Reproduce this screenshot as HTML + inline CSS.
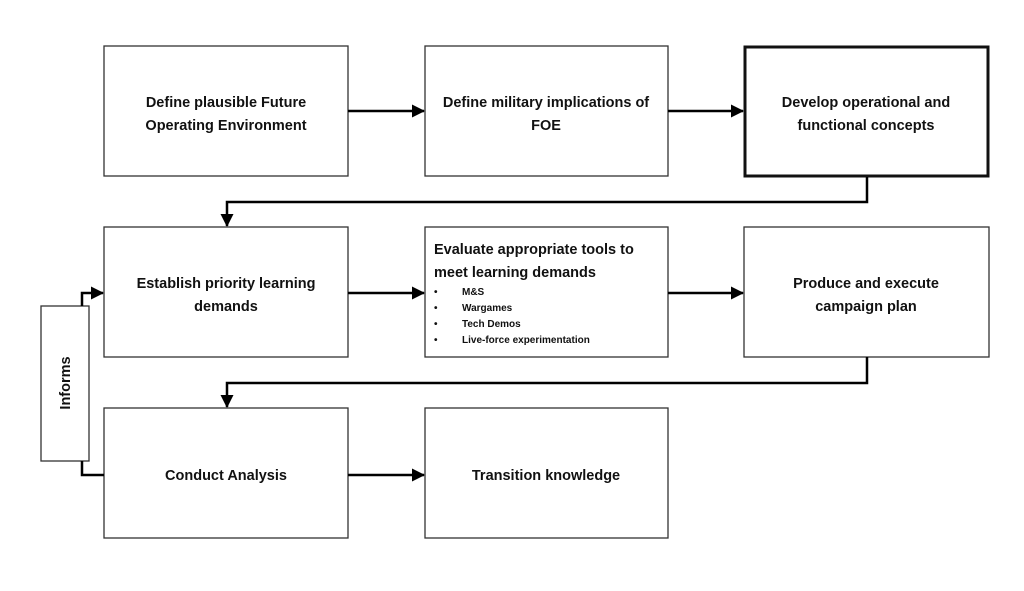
<!DOCTYPE html>
<html><head><meta charset="utf-8"><style>
html,body{margin:0;padding:0;background:#fff;}
svg text{font-family:"Liberation Sans",sans-serif;font-weight:bold;fill:#111;}
</style></head><body>
<svg width="1024" height="586" viewBox="0 0 1024 586" xmlns="http://www.w3.org/2000/svg">
<defs><marker id="a" markerWidth="13" markerHeight="13" refX="12" refY="6.5" orient="auto" markerUnits="userSpaceOnUse"><path d="M0,0 L13,6.5 L0,13 z" fill="#000"/></marker></defs>
<g fill="#fff" stroke="#333" stroke-width="1.3">
<rect x="104" y="46" width="244" height="130"/>
<rect x="425" y="46" width="243" height="130"/>
<rect x="104" y="227" width="244" height="130"/>
<rect x="425" y="227" width="243" height="130"/>
<rect x="744" y="227" width="245" height="130"/>
<rect x="104" y="408" width="244" height="130"/>
<rect x="425" y="408" width="243" height="130"/>
<rect x="41" y="306" width="48" height="155"/>
</g>
<rect x="745" y="47" width="243" height="129" fill="#fff" stroke="#111" stroke-width="3"/>
<g stroke="#000" stroke-width="2.5" fill="none">
<line x1="348" y1="111" x2="424" y2="111" marker-end="url(#a)"/>
<line x1="668" y1="111" x2="743" y2="111" marker-end="url(#a)"/>
<line x1="348" y1="293" x2="424" y2="293" marker-end="url(#a)"/>
<line x1="668" y1="293" x2="743" y2="293" marker-end="url(#a)"/>
<line x1="348" y1="475" x2="424" y2="475" marker-end="url(#a)"/>
<polyline points="867,177 867,202 227,202 227,226" marker-end="url(#a)"/>
<polyline points="867,357 867,383 227,383 227,407" marker-end="url(#a)"/>
<polyline points="82,306 82,293 103,293" marker-end="url(#a)"/>
<polyline points="82,461 82,475 104,475"/>
</g>
<g font-size="14.5" text-anchor="middle">
<text x="226" y="107">Define plausible Future</text>
<text x="226" y="130">Operating Environment</text>
<text x="546" y="107">Define military implications of</text>
<text x="546" y="130">FOE</text>
<text x="866" y="107">Develop operational and</text>
<text x="866" y="130">functional concepts</text>
<text x="226" y="288">Establish priority learning</text>
<text x="226" y="311">demands</text>
<text x="866" y="288">Produce and execute</text>
<text x="866" y="311">campaign plan</text>
<text x="226" y="480">Conduct Analysis</text>
<text x="546" y="480">Transition knowledge</text>
</g>
<g font-size="14.5">
<text x="434" y="254">Evaluate appropriate tools to</text>
<text x="434" y="277">meet learning demands</text>
</g>
<g font-size="10">
<text x="434" y="295">•</text><text x="462" y="295">M&amp;S</text>
<text x="434" y="311">•</text><text x="462" y="311">Wargames</text>
<text x="434" y="327">•</text><text x="462" y="327">Tech Demos</text>
<text x="434" y="343">•</text><text x="462" y="343">Live-force experimentation</text>
</g>
<text x="0" y="0" font-size="14.5" text-anchor="middle" transform="translate(70,383) rotate(-90)">Informs</text>
</svg>
</body></html>
